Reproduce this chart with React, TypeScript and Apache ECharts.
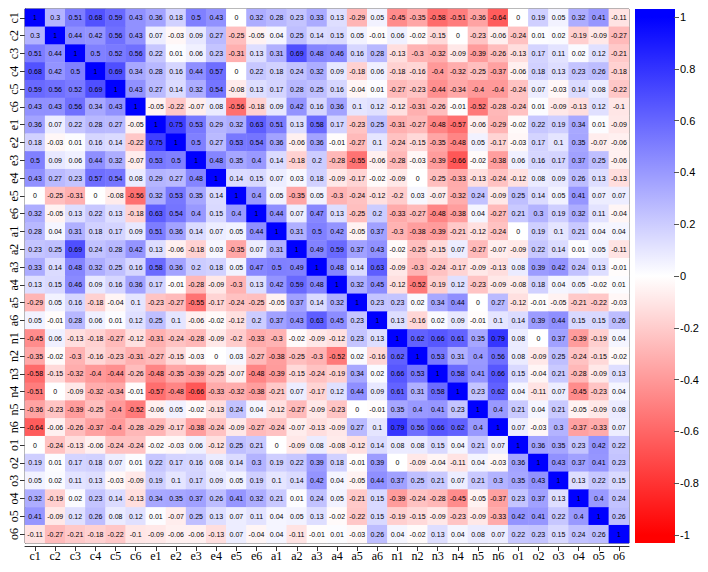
import React, { useEffect, useRef } from "react";
import * as echarts from "echarts";

const varNames = [
  "c1", "c2", "c3", "c4", "c5", "c6",
  "e1", "e2", "e3", "e4", "e5", "e6",
  "a1", "a2", "a3", "a4", "a5", "a6",
  "n1", "n2", "n3", "n4", "n5", "n6",
  "o1", "o2", "o3", "o4", "o5", "o6",
];

const c1Row = [1, 0.3, 0.51, 0.68, 0.59, 0.43, 0.36, 0.18, 0.5, 0.43, 0, 0.32, 0.28, 0.23, 0.33, 0.13, -0.29, 0.05, -0.45, -0.35, -0.58, -0.51, -0.36, -0.64, 0, 0.19, 0.05, 0.32, 0.41, -0.11];
const c2Row = [0.3, 1, 0.44, 0.42, 0.56, 0.43, 0.07, -0.03, 0.09, 0.27, -0.25, -0.05, 0.04, 0.25, 0.14, 0.15, 0.05, -0.01, 0.06, -0.02, -0.15, 0, -0.23, -0.06, -0.24, 0.01, 0.02, -0.19, -0.09, -0.27];
const c3Row = [0.51, 0.44, 1, 0.5, 0.52, 0.56, 0.22, 0.01, 0.06, 0.23, -0.31, 0.13, 0.31, 0.69, 0.48, 0.46, 0.16, 0.28, -0.13, -0.3, -0.32, -0.09, -0.39, -0.26, -0.13, 0.17, 0.11, 0.02, 0.12, -0.21];
const c4Row = [0.68, 0.42, 0.5, 1, 0.69, 0.34, 0.28, 0.16, 0.44, 0.57, 0, 0.22, 0.18, 0.24, 0.32, 0.09, -0.18, 0.06, -0.18, -0.16, -0.4, -0.32, -0.25, -0.37, -0.06, 0.18, 0.13, 0.23, 0.26, -0.18];
const c5Row = [0.59, 0.56, 0.52, 0.69, 1, 0.43, 0.27, 0.14, 0.32, 0.54, -0.08, 0.13, 0.17, 0.28, 0.25, 0.16, -0.04, 0.01, -0.27, -0.23, -0.44, -0.34, -0.4, -0.4, -0.24, 0.07, -0.03, 0.14, 0.08, -0.22];
const c6Row = [0.43, 0.43, 0.56, 0.34, 0.43, 1, -0.05, -0.22, -0.07, 0.08, -0.56, -0.18, 0.09, 0.42, 0.16, 0.36, 0.1, 0.12, -0.12, -0.31, -0.26, -0.01, -0.52, -0.28, -0.24, 0.01, -0.09, -0.13, 0.12, -0.1];
const e1Row = [0.36, 0.07, 0.22, 0.28, 0.27, -0.05, 1, 0.75, 0.53, 0.29, 0.32, 0.63, 0.51, 0.13, 0.58, 0.17, -0.23, 0.25, -0.31, -0.27, -0.48, -0.57, -0.06, -0.29, -0.02, 0.22, 0.19, 0.34, 0.01, -0.09];
const e2Row = [0.18, -0.03, 0.01, 0.16, 0.14, -0.22, 0.75, 1, 0.5, 0.27, 0.53, 0.54, 0.36, -0.06, 0.36, -0.01, -0.27, 0.1, -0.24, -0.15, -0.35, -0.48, 0.05, -0.17, -0.03, 0.17, 0.1, 0.35, -0.07, -0.06];
const e3Row = [0.5, 0.09, 0.06, 0.44, 0.32, -0.07, 0.53, 0.5, 1, 0.48, 0.35, 0.4, 0.14, -0.18, 0.2, -0.28, -0.55, -0.06, -0.28, -0.03, -0.39, -0.66, -0.02, -0.38, 0.06, 0.16, 0.17, 0.37, 0.25, -0.06];
const e4Row = [0.43, 0.27, 0.23, 0.57, 0.54, 0.08, 0.29, 0.27, 0.48, 1, 0.14, 0.15, 0.07, 0.03, 0.18, -0.09, -0.17, -0.02, -0.09, 0, -0.25, -0.33, -0.13, -0.24, -0.12, 0.08, 0.09, 0.26, 0.13, -0.13];
const e5Row = [0, -0.25, -0.31, 0, -0.08, -0.56, 0.32, 0.53, 0.35, 0.14, 1, 0.4, 0.05, -0.35, 0.05, -0.3, -0.24, -0.12, -0.2, 0.03, -0.07, -0.32, 0.24, -0.09, 0.25, 0.14, 0.05, 0.41, 0.07, 0.07];
const e6Row = [0.32, -0.05, 0.13, 0.22, 0.13, -0.18, 0.63, 0.54, 0.4, 0.15, 0.4, 1, 0.44, 0.07, 0.47, 0.13, -0.25, 0.2, -0.33, -0.27, -0.48, -0.38, 0.04, -0.27, 0.21, 0.3, 0.19, 0.32, 0.11, -0.04];
const a1Row = [0.28, 0.04, 0.31, 0.18, 0.17, 0.09, 0.51, 0.36, 0.14, 0.07, 0.05, 0.44, 1, 0.31, 0.5, 0.42, -0.05, 0.37, -0.3, -0.38, -0.39, -0.21, -0.12, -0.24, 0, 0.19, 0.1, 0.21, 0.04, 0.04];
const a2Row = [0.23, 0.25, 0.69, 0.24, 0.28, 0.42, 0.13, -0.06, -0.18, 0.03, -0.35, 0.07, 0.31, 1, 0.49, 0.59, 0.37, 0.43, -0.02, -0.25, -0.15, 0.07, -0.27, -0.07, -0.09, 0.22, 0.14, 0.01, 0.05, -0.11];
const a3Row = [0.33, 0.14, 0.48, 0.32, 0.25, 0.16, 0.58, 0.36, 0.2, 0.18, 0.05, 0.47, 0.5, 0.49, 1, 0.48, 0.14, 0.63, -0.09, -0.3, -0.24, -0.17, -0.09, -0.13, 0.08, 0.39, 0.42, 0.24, 0.13, -0.01];
const a4Row = [0.13, 0.15, 0.46, 0.09, 0.16, 0.36, 0.17, -0.01, -0.28, -0.09, -0.3, 0.13, 0.42, 0.59, 0.48, 1, 0.32, 0.45, -0.12, -0.52, -0.19, 0.12, -0.23, -0.09, -0.08, 0.18, 0.04, 0.05, -0.02, 0.01];
const a5Row = [-0.29, 0.05, 0.16, -0.18, -0.04, 0.1, -0.23, -0.27, -0.55, -0.17, -0.24, -0.25, -0.05, 0.37, 0.14, 0.32, 1, 0.23, 0.23, 0.02, 0.34, 0.44, 0, 0.27, -0.12, -0.01, -0.05, -0.21, -0.22, -0.03];
const a6Row = [0.05, -0.01, 0.28, 0.06, 0.01, 0.12, 0.25, 0.1, -0.06, -0.02, -0.12, 0.2, 0.37, 0.43, 0.63, 0.45, 0.23, 1, 0.13, -0.16, 0.02, 0.09, -0.01, 0.1, 0.14, 0.39, 0.44, 0.15, 0.15, 0.26];
const n1Row = [-0.45, 0.06, -0.13, -0.18, -0.27, -0.12, -0.31, -0.24, -0.28, -0.09, -0.2, -0.33, -0.3, -0.02, -0.09, -0.12, 0.23, 0.13, 1, 0.62, 0.66, 0.61, 0.35, 0.79, 0.08, 0, 0.37, -0.39, -0.19, 0.04];
const n2Row = [-0.35, -0.02, -0.3, -0.16, -0.23, -0.31, -0.27, -0.15, -0.03, 0, 0.03, -0.27, -0.38, -0.25, -0.3, -0.52, 0.02, -0.16, 0.62, 1, 0.53, 0.31, 0.4, 0.56, 0.08, -0.09, 0.25, -0.24, -0.15, -0.02];
const n3Row = [-0.58, -0.15, -0.32, -0.4, -0.44, -0.26, -0.48, -0.35, -0.39, -0.25, -0.07, -0.48, -0.39, -0.15, -0.24, -0.19, 0.34, 0.02, 0.66, 0.53, 1, 0.58, 0.41, 0.66, 0.15, -0.04, 0.21, -0.28, -0.09, 0.13];
const n4Row = [-0.51, 0, -0.09, -0.32, -0.34, -0.01, -0.57, -0.48, -0.66, -0.33, -0.32, -0.38, -0.21, 0.07, -0.17, 0.12, 0.44, 0.09, 0.61, 0.31, 0.58, 1, 0.23, 0.62, 0.04, -0.11, 0.07, -0.45, -0.23, 0.04];
const n5Row = [-0.36, -0.23, -0.39, -0.25, -0.4, -0.52, -0.06, 0.05, -0.02, -0.13, 0.24, 0.04, -0.12, -0.27, -0.09, -0.23, 0, -0.01, 0.35, 0.4, 0.41, 0.23, 1, 0.4, 0.21, 0.04, 0.21, -0.05, -0.09, 0.08];
const n6Row = [-0.64, -0.06, -0.26, -0.37, -0.4, -0.28, -0.29, -0.17, -0.38, -0.24, -0.09, -0.27, -0.24, -0.07, -0.13, -0.09, 0.27, 0.1, 0.79, 0.56, 0.66, 0.62, 0.4, 1, 0.07, -0.03, 0.3, -0.37, -0.33, 0.07];
const o1Row = [0, -0.24, -0.13, -0.06, -0.24, -0.24, -0.02, -0.03, 0.06, -0.12, 0.25, 0.21, 0, -0.09, 0.08, -0.08, -0.12, 0.14, 0.08, 0.08, 0.15, 0.04, 0.21, 0.07, 1, 0.36, 0.35, 0.23, 0.42, 0.22];
const o2Row = [0.19, 0.01, 0.17, 0.18, 0.07, 0.01, 0.22, 0.17, 0.16, 0.08, 0.14, 0.3, 0.19, 0.22, 0.39, 0.18, -0.01, 0.39, 0, -0.09, -0.04, -0.11, 0.04, -0.03, 0.36, 1, 0.43, 0.37, 0.41, 0.23];
const o3Row = [0.05, 0.02, 0.11, 0.13, -0.03, -0.09, 0.19, 0.1, 0.17, 0.09, 0.05, 0.19, 0.1, 0.14, 0.42, 0.04, -0.05, 0.44, 0.37, 0.25, 0.21, 0.07, 0.21, 0.3, 0.35, 0.43, 1, 0.13, 0.22, 0.15];
const o4Row = [0.32, -0.19, 0.02, 0.23, 0.14, -0.13, 0.34, 0.35, 0.37, 0.26, 0.41, 0.32, 0.21, 0.01, 0.24, 0.05, -0.21, 0.15, -0.39, -0.24, -0.28, -0.45, -0.05, -0.37, 0.23, 0.37, 0.13, 1, 0.4, 0.24];
const o5Row = [0.41, -0.09, 0.12, 0.26, 0.08, 0.12, 0.01, -0.07, 0.25, 0.13, 0.07, 0.11, 0.04, 0.05, 0.13, -0.02, -0.22, 0.15, -0.19, -0.15, -0.09, -0.23, -0.09, -0.33, 0.42, 0.41, 0.22, 0.4, 1, 0.26];
const o6Row = [-0.11, -0.27, -0.21, -0.18, -0.22, -0.1, -0.09, -0.06, -0.06, -0.13, 0.07, -0.04, 0.04, -0.11, -0.01, 0.01, -0.03, 0.26, 0.04, -0.02, 0.13, 0.04, 0.08, 0.07, 0.22, 0.23, 0.15, 0.24, 0.26, 1];

const colorbarTicks = [-1, -0.8, -0.6, -0.4, -0.2, 0, 0.2, 0.4, 0.6, 0.8, 1];

const allRows = [
  c1Row, c2Row, c3Row, c4Row, c5Row, c6Row,
  e1Row, e2Row, e3Row, e4Row, e5Row, e6Row,
  a1Row, a2Row, a3Row, a4Row, a5Row, a6Row,
  n1Row, n2Row, n3Row, n4Row, n5Row, n6Row,
  o1Row, o2Row, o3Row, o4Row, o5Row, o6Row,
];

export default function App() {
  const ref = useRef<HTMLDivElement>(null);

  useEffect(() => {
    if (!ref.current) return;
    const chart = echarts.init(ref.current, null, { renderer: "svg" });

    const data: [number, number, number][] = [];
    allRows.forEach((row, y) => {
      row.forEach((v, x) => data.push([x, y, v]));
    });

    const gridLeft = 25;
    const gridTop = 9;
    const gridW = 604;
    const gridH = 534;
    const barX = 635;
    const barW = 40;

    chart.setOption({
      animation: false,
      backgroundColor: "#ffffff",
      grid: [
        {
          left: gridLeft,
          top: gridTop,
          width: gridW,
          height: gridH,
          show: true,
          borderColor: "#444",
          borderWidth: 1,
          backgroundColor: "transparent",
        },
        {
          left: barX + barW - 1,
          top: 17,
          width: 1,
          height: 518,
          show: false,
        },
      ],
      xAxis: [
        {
          type: "category",
          gridIndex: 0,
          data: varNames,
          position: "bottom",
          offset: 3,
          axisLine: { show: true, lineStyle: { color: "#333", width: 1 } },
          axisTick: { show: true, alignWithLabel: true, length: 5, lineStyle: { color: "#333" } },
          axisLabel: {
            fontFamily: "Liberation Serif",
            fontSize: 12,
            color: "#000",
            margin: 4,
            interval: 0,
          },
          splitLine: { show: false },
        },
        {
          type: "value",
          gridIndex: 1,
          show: false,
          min: 0,
          max: 1,
        },
      ],
      yAxis: [
        {
          type: "category",
          gridIndex: 0,
          data: varNames,
          inverse: true,
          axisLine: { show: true, lineStyle: { color: "#333", width: 1 } },
          axisTick: { show: true, alignWithLabel: true, length: 5, lineStyle: { color: "#333" } },
          axisLabel: {
            fontFamily: "Liberation Serif",
            fontSize: 12,
            color: "#000",
            rotate: 90,
            margin: 5,
            interval: 0,
          },
          splitLine: { show: false },
        },
        {
          type: "value",
          gridIndex: 1,
          position: "right",
          min: -1,
          max: 1,
          interval: 0.2,
          axisLine: { show: false },
          axisTick: { show: true, length: 5, lineStyle: { color: "#555" } },
          axisLabel: {
            fontFamily: "Liberation Sans",
            fontSize: 11,
            color: "#000",
            margin: 5,
            formatter: (v: number) => {
              const r = Math.round(v * 10) / 10;
              return colorbarTicks.indexOf(r) >= 0 ? String(r) : "";
            },
          },
          splitLine: { show: false },
        },
      ],
      visualMap: {
        type: "continuous",
        show: false,
        min: -1,
        max: 1,
        dimension: 2,
        seriesIndex: 0,
        inRange: { color: ["#FF0000", "#FFFFFF", "#0000FF"] },
      },
      graphic: [
        {
          type: "rect",
          shape: { x: barX, y: gridTop, width: barW, height: gridH },
          style: {
            fill: new echarts.graphic.LinearGradient(0, 0, 0, 1, [
              { offset: 0, color: "#0000FF" },
              { offset: 0.015, color: "#0000FF" },
              { offset: 0.5, color: "#FFFFFF" },
              { offset: 0.985, color: "#FF0000" },
              { offset: 1, color: "#FF0000" },
            ]),
          },
          silent: true,
        },
      ],
      series: [
        {
          type: "heatmap",
          xAxisIndex: 0,
          yAxisIndex: 0,
          data,
          itemStyle: { borderWidth: 0 },
          label: {
            show: true,
            fontFamily: "Liberation Sans",
            fontSize: 7,
            color: "#000",
            formatter: (p: any) => String(p.value[2]),
          },
          emphasis: { disabled: true },
        },
        {
          type: "scatter",
          xAxisIndex: 1,
          yAxisIndex: 1,
          data: [],
        },
      ],
    });

    return () => chart.dispose();
  }, []);

  return (
    <div
      ref={ref}
      style={{ position: "fixed", left: 0, top: 0, width: 708, height: 572 }}
    />
  );
}
